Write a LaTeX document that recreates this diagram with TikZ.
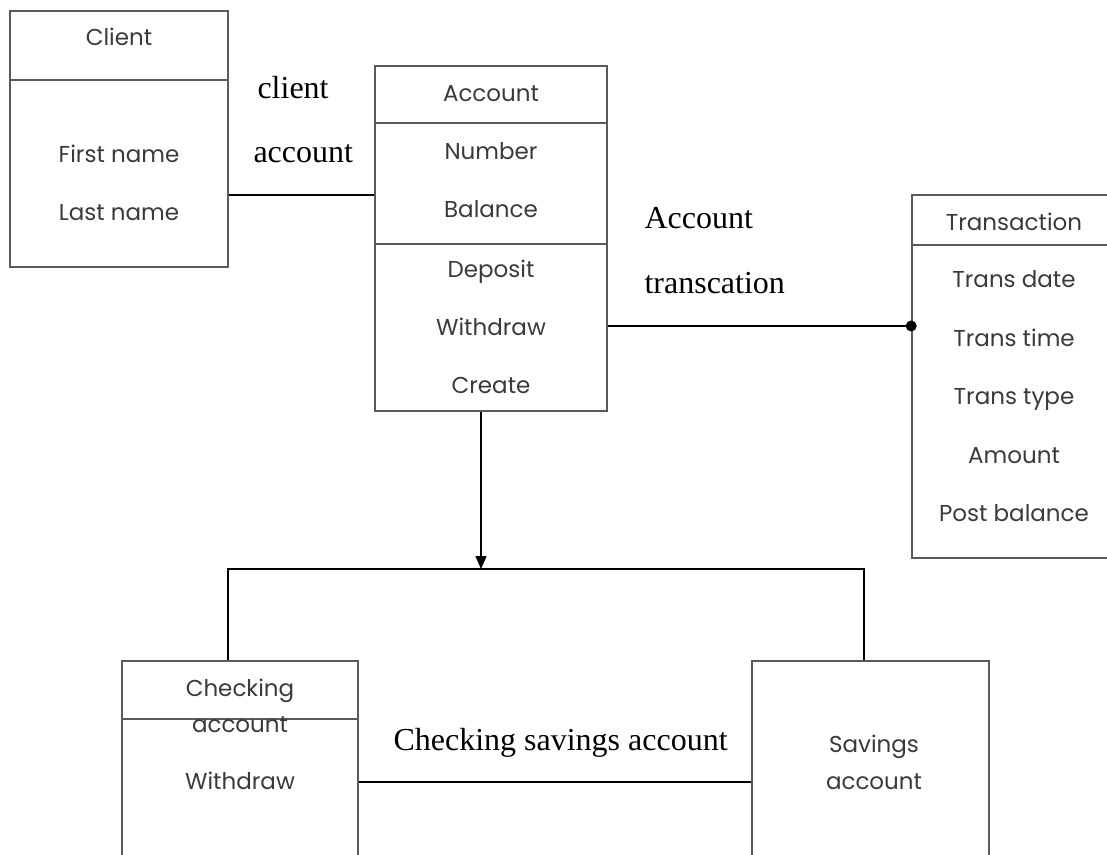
\documentclass[tikz,border=0pt]{standalone}
\usepackage{fontspec}
\setmainfont{Liberation Serif}
\newfontfamily\boxfont{Poppins}
\usetikzlibrary{arrows.meta}

\definecolor{boxgray}{HTML}{5A5A5A}
\definecolor{txtgray}{HTML}{3A3A3A}

\begin{document}
\begin{tikzpicture}[x=1pt,y=-1pt,
    box/.style={draw=boxgray, line width=1.6pt, inner sep=0pt},
    divider/.style={draw=boxgray, line width=1.6pt},
    field/.style={font=\boxfont\fontsize{23}{27}\selectfont, text=txtgray, anchor=base},
    rel/.style={font=\fontsize{32}{36}\selectfont, anchor=base west},
    link/.style={line width=1.4pt}]

\useasboundingbox (0,0) rectangle (1107,854);
\clip (0,0) rectangle (1107,854);

% Client
\node[box, minimum width=218pt, minimum height=256pt] (client) at (119,139) {};
\coordinate (clienthead) at (119,80);
\draw[divider] (client.west |- clienthead) -- (client.east |- clienthead);
\node[field] (cname) at (119,45) {Client};
\node[field] (cfirst) at (119,162) {First name};
\node[field] (clast) at (119,220) {Last name};

% Account
\node[box, minimum width=232pt, minimum height=345pt] (account) at (491,238.5) {};
\coordinate (acchead) at (491,123);
\coordinate (accops) at (491,244);
\draw[divider] (account.west |- acchead) -- (account.east |- acchead);
\draw[divider] (account.west |- accops) -- (account.east |- accops);
\node[field] (aname) at (491,101) {Account};
\node[field] (anum) at (491,159) {Number};
\node[field] (abal) at (491,217) {Balance};
\node[field] (adep) at (491,277) {Deposit};
\node[field] (awd) at (491,335) {Withdraw};
\node[field] (acre) at (491,393) {Create};

% Transaction
\node[box, minimum width=206pt, minimum height=363pt] (trans) at (1015,376.5) {};
\coordinate (transhead) at (1015,245);
\draw[divider] (trans.west |- transhead) -- (trans.east |- transhead);
\node[field] (tname) at (1014,230) {Transaction};
\node[field] (tdate) at (1014,287) {Trans date};
\node[field] (ttime) at (1014,346) {Trans time};
\node[field] (ttype) at (1014,404) {Trans type};
\node[field] (tamt) at (1014,463) {Amount};
\node[field] (tpost) at (1014,521) {Post balance};

% Checking account
\node[box, minimum width=236pt, minimum height=219pt] (checking) at (240,770.5) {};
\coordinate (chkhead) at (240,719);
\draw[divider] (checking.west |- chkhead) -- (checking.east |- chkhead);
\node[field] (chname) at (240,696) {Checking};
\node[field] (chname2) at (240,732) {account};
\node[field] (chwd) at (240,789) {Withdraw};

% Savings account
\node[box, minimum width=237pt, minimum height=219pt] (savings) at (870.5,770.5) {};
\node[field] (sname) at (874,752) {Savings};
\node[field] (sname2) at (874,789) {account};

% Relations
\coordinate (clientlink) at (300,195);
\draw[link] (client.east |- clientlink) -- (account.west |- clientlink);
\node[rel] (relca1) at (254,98) {client};
\node[rel] (relca2) at (250,162) {account};

\coordinate (translink) at (700,326);
\draw[link] (account.east |- translink) -- (trans.west |- translink)
    node[circle, fill, inner sep=0pt, minimum size=11pt] (dot) {};
\node[rel] (relat1) at (641,228) {Account};
\node[rel] (relat2) at (641,293) {transcation};

% Generalisation
\coordinate (gen) at (481,569);
\coordinate (chkup) at (228,0);
\coordinate (savup) at (864,0);
\draw[link, -{Triangle[length=13pt, width=11pt]}] (account.south -| gen) -- (gen);
\draw[link] (checking.north -| chkup) |- (gen) -| (savings.north -| savup);

\coordinate (cslink) at (550,782);
\draw[link] (checking.east |- cslink) -- (savings.west |- cslink);
\node[rel] (relcs) at (390,750) {Checking savings account};

\end{tikzpicture}
\end{document}
